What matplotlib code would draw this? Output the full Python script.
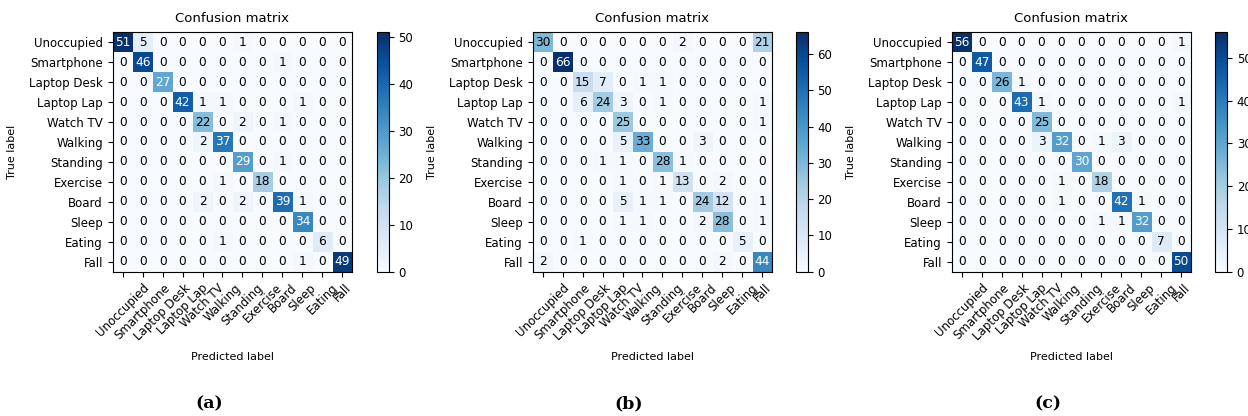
import numpy as np
import matplotlib.pyplot as plt

classes = ['Unoccupied', 'Smartphone', 'Laptop Desk', 'Laptop Lap', 'Watch TV', 'Walking',
           'Standing', 'Exercise', 'Board', 'Sleep', 'Eating', 'Fall']

cm_a = [
    [51, 5, 0, 0, 0, 0, 1, 0, 0, 0, 0, 0],
    [0, 46, 0, 0, 0, 0, 0, 0, 1, 0, 0, 0],
    [0, 0, 27, 0, 0, 0, 0, 0, 0, 0, 0, 0],
    [0, 0, 0, 42, 1, 1, 0, 0, 0, 1, 0, 0],
    [0, 0, 0, 0, 22, 0, 2, 0, 1, 0, 0, 0],
    [0, 0, 0, 0, 2, 37, 0, 0, 0, 0, 0, 0],
    [0, 0, 0, 0, 0, 0, 29, 0, 1, 0, 0, 0],
    [0, 0, 0, 0, 0, 1, 0, 18, 0, 0, 0, 0],
    [0, 0, 0, 0, 2, 0, 2, 0, 39, 1, 0, 0],
    [0, 0, 0, 0, 0, 0, 0, 0, 0, 34, 0, 0],
    [0, 0, 0, 0, 0, 1, 0, 0, 0, 0, 6, 0],
    [0, 0, 0, 0, 0, 0, 0, 0, 0, 1, 0, 49],
]

cm_b = [
    [30, 0, 0, 0, 0, 0, 0, 2, 0, 0, 0, 21],
    [0, 66, 0, 0, 0, 0, 0, 0, 0, 0, 0, 0],
    [0, 0, 15, 7, 0, 1, 1, 0, 0, 0, 0, 0],
    [0, 0, 6, 24, 3, 0, 1, 0, 0, 0, 0, 1],
    [0, 0, 0, 0, 25, 0, 0, 0, 0, 0, 0, 1],
    [0, 0, 0, 0, 5, 33, 0, 0, 3, 0, 0, 0],
    [0, 0, 0, 1, 1, 0, 28, 1, 0, 0, 0, 0],
    [0, 0, 0, 0, 1, 0, 1, 13, 0, 2, 0, 0],
    [0, 0, 0, 0, 5, 1, 1, 0, 24, 12, 0, 1],
    [0, 0, 0, 0, 1, 1, 0, 0, 2, 28, 0, 1],
    [0, 0, 1, 0, 0, 0, 0, 0, 0, 0, 5, 0],
    [2, 0, 0, 0, 0, 0, 0, 0, 0, 2, 0, 44],
]

cm_c = [
    [56, 0, 0, 0, 0, 0, 0, 0, 0, 0, 0, 1],
    [0, 47, 0, 0, 0, 0, 0, 0, 0, 0, 0, 0],
    [0, 0, 26, 1, 0, 0, 0, 0, 0, 0, 0, 0],
    [0, 0, 0, 43, 1, 0, 0, 0, 0, 0, 0, 1],
    [0, 0, 0, 0, 25, 0, 0, 0, 0, 0, 0, 0],
    [0, 0, 0, 0, 3, 32, 0, 1, 3, 0, 0, 0],
    [0, 0, 0, 0, 0, 0, 30, 0, 0, 0, 0, 0],
    [0, 0, 0, 0, 0, 1, 0, 18, 0, 0, 0, 0],
    [0, 0, 0, 0, 0, 1, 0, 0, 42, 1, 0, 0],
    [0, 0, 0, 0, 0, 0, 0, 1, 1, 32, 0, 0],
    [0, 0, 0, 0, 0, 0, 0, 0, 0, 0, 7, 0],
    [0, 0, 0, 0, 0, 0, 0, 0, 0, 0, 0, 50],
]

captions = ['(a)', '(b)', '(c)']

W, H = 1248, 416
fig = plt.figure(figsize=(W / 100, H / 100), dpi=100)

# pixel boxes: matrix left edge, colorbar left edge
ax_left = [112.7, 532.7, 951.7]
cb_left = [376.7, 795.7, 1215.0]
box = 239.5
bottom = 416 - 271.7


def plot_confusion_matrix(ax, cax, cm):
    cm = np.array(cm)
    im = ax.imshow(cm, interpolation='nearest', cmap=plt.cm.Blues)
    ax.set_title('Confusion matrix', fontsize=9.5, pad=7)
    cb = fig.colorbar(im, cax=cax)
    cb.ax.tick_params(labelsize=8.5)
    ticks = np.arange(len(classes))
    ax.set_xticks(ticks)
    ax.set_xticklabels(classes, rotation=45, fontsize=8.5)
    ax.set_yticks(ticks)
    ax.set_yticklabels(classes, fontsize=8.5)
    thresh = cm.max() / 2.
    for i in range(cm.shape[0]):
        for j in range(cm.shape[1]):
            ax.text(j, i, format(cm[i, j], 'd'), ha='center', va='center',
                    fontsize=8.7, color='white' if cm[i, j] > thresh else 'black')
    ax.set_ylabel('True label', fontsize=8, labelpad=9)
    ax.set_xlabel('Predicted label', fontsize=8, labelpad=7)


for k, cm in enumerate([cm_a, cm_b, cm_c]):
    ax = fig.add_axes([ax_left[k] / W, bottom / H, box / W, box / H])
    cax = fig.add_axes([cb_left[k] / W, bottom / H, 12 / W, box / H])
    plot_confusion_matrix(ax, cax, cm)
    fig.text((ax_left[k] + 96) / W, 1 - 404 / H, captions[k], ha='center', va='center',
             fontsize=12.5, fontweight='bold', family='DejaVu Serif')

fig.savefig('out.png', dpi=100)
